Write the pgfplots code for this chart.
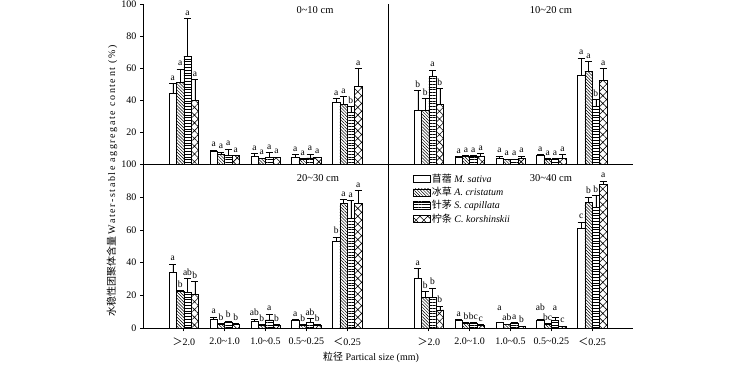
\documentclass[border=0pt]{standalone}
\usepackage{fontspec}
\setmainfont{Liberation Serif}
\newfontfamily\cjk{Noto Sans CJK SC}
\usepackage{pgfplots}
\pgfplotsset{compat=1.18}
\usepackage{pgfplotstable}
\usetikzlibrary{patterns.meta}

% x: group; v: bar value; t: top of error bar; l: significance letter
\pgfplotstableread{
x v1 t1 l1 v2 t2 l2 v3 t3 l3 v4 t4 l4
0 44.4 50.6 a 51.2 59.6 a 67.7 91.2 a 40.2 53.1 a
1 7.9 8.9 a 6.4 7.6 a 5.4 9.4 a 5.4 5.6 a
2 4.8 6.6 a 3.7 4.0 a 4.1 7.5 a 4.1 4.5 a
3 4.6 6.2 a 3.1 3.5 a 4.0 6.4 a 4.1 4.5 a
4 38.5 41.2 a 37.5 42.3 a 32.5 36.0 b 48.9 60.0 a
}\tA
\pgfplotstableread{
x v1 t1 l1 v2 t2 l2 v3 t3 l3 v4 t4 l4
0 33.5 46.0 b 33.5 41.0 b 55.2 59.0 a 37.3 47.3 b
1 4.4 4.8 a 5.2 5.5 a 5.2 5.5 a 5.2 6.6 a
2 3.5 5.2 a 2.9 3.2 a 3.1 3.4 a 3.6 5.1 a
3 5.8 6.2 a 3.1 3.5 a 3.1 3.5 a 3.7 6.2 a
4 56.0 66.4 a 58.3 64.4 a 36.4 40.6 b 52.7 60.0 a
}\tB
\pgfplotstableread{
x v1 t1 l1 v2 t2 l2 v3 t3 l3 v4 t4 l4
0 34.0 39.2 a 22.4 23.0 b 21.8 30.2 ab 21.0 28.6 b
1 5.3 6.9 a 2.6 3.0 b 3.9 4.3 b 2.6 3.0 b
2 4.5 5.7 ab 2.0 2.3 b 5.1 8.8 a 2.0 2.3 b
3 4.9 5.3 a 2.0 2.3 b 3.5 6.1 ab 2.0 2.3 b
4 53.0 55.6 b 76.0 78.5 a 67.3 78.0 a 76.0 84.0 a
}\tC
% h: height at which the letter is set, where it is lifted clear of a neighbour
\pgfplotstableread{
x v1 t1 l1 h1 v2 t2 l2 h2 v3 t3 l3 h3 v4 t4 l4 h4
0 30.2 36.3 a 36.3 18.7 22.4 b 22.4 18.7 24.6 b 24.6 11.2 13.5 b 13.5
1 4.9 5.3 a 5.3 3.3 3.5 b 3.5 3.3 3.5 bc 3.5 2.0 2.2 c 2.2
2 3.5 3.8 a 9.0 2.4 2.6 ab 2.6 3.3 3.6 a 3.6 1.2 1.4 b 1.4
3 4.7 5.3 ab 9.0 2.6 2.9 bc 2.9 4.7 6.9 a 9.0 1.2 1.4 c 1.4
4 61.2 64.8 c 64.8 76.6 80.1 b 80.1 74.0 81.1 b 81.1 87.6 89.7 a 89.7
}\tD

\pgfplotsset{
  panel/.style={scale only axis, width=245pt, xmin=-1, xmax=5, ymin=0, ymax=100,
    axis x line=bottom, axis y line=left, axis line style={-, line width=0.8pt},
    tick align=outside, major tick length=3pt, tick style={line width=0.7pt, black},
    clip=false, xtick={0,...,4},
    tick label style={font=\fontsize{10}{11}\selectfont},
    xticklabel style={yshift=-3pt},
    /pgf/number format/assume math mode=true,
    legend image code/.code={\draw[##1, line width=0.6pt] (0pt,-3.5pt) rectangle (17pt,3.5pt);},
  },
  bb/.style={ybar, bar width=0.18, bar shift=0pt, draw=black, line width=0.6pt,
    error bars/.cd, y dir=plus, y explicit,
    error bar style={line width=0.6pt, black},
    error mark=-,
    error mark options={rotate=90, line width=0.6pt, mark size=3.5pt, black}},
  b1/.style={fill=white, bb},
  b2/.style={pattern={Lines[angle=-45,distance=2.2pt,line width=0.5pt]}, bb},
  b3/.style={pattern={Lines[angle=0,distance=2.8pt,line width=0.5pt]}, bb},
  b4/.style={pattern={Hatch[angle=45,distance=5.5pt,line width=0.6pt]}, bb},
  lab/.style={forget plot, only marks, mark=none, nodes near coords,
    point meta=explicit symbolic,
    every node near coord/.append style={anchor=south, inner sep=0.5pt, yshift=2.5pt,
      font=\fontsize{9.5}{10}\selectfont}},
}

\newcommand\bars[1]{%
  \addplot[b1] table[x expr=\thisrow{x}-0.27,y=v1,y error expr=\thisrow{t1}-\thisrow{v1}]{#1};
  \addplot[b2] table[x expr=\thisrow{x}-0.09,y=v2,y error expr=\thisrow{t2}-\thisrow{v2}]{#1};
  \addplot[b3] table[x expr=\thisrow{x}+0.09,y=v3,y error expr=\thisrow{t3}-\thisrow{v3}]{#1};
  \addplot[b4] table[x expr=\thisrow{x}+0.27,y=v4,y error expr=\thisrow{t4}-\thisrow{v4}]{#1};
}
% #2: column prefix for the height of the letters (t or h)
\newcommand\labs[2]{%
  \addplot[lab] table[x expr=\thisrow{x}-0.27,y=#21,meta=l1]{#1};
  \addplot[lab] table[x expr=\thisrow{x}-0.09,y=#22,meta=l2]{#1};
  \addplot[lab] table[x expr=\thisrow{x}+0.09,y=#23,meta=l3]{#1};
  \addplot[lab] table[x expr=\thisrow{x}+0.27,y=#24,meta=l4]{#1};
}

\begin{document}
\begin{tikzpicture}
\useasboundingbox (0pt,0pt) rectangle (736pt,364pt);

\begin{axis}[panel, at={(143pt,199.7pt)}, anchor=south west, height=159.8pt,
  ytick={20,40,...,100}, xtick=\empty]
  \bars{\tA}
  \labs{\tA}{t}
\end{axis}

\begin{axis}[panel, at={(388pt,199.7pt)}, anchor=south west, height=159.8pt,
  ytick=\empty, xtick=\empty]
  \bars{\tB}
  \labs{\tB}{t}
\end{axis}

\begin{axis}[panel, at={(143pt,35.7pt)}, anchor=south west, height=164pt,
  ytick={0,20,...,100},
  xticklabels={{\cjk ＞}2.0, 2.0\textasciitilde1.0, 1.0\textasciitilde0.5, 0.5\textasciitilde0.25, {\cjk ＜}0.25}]
  \bars{\tC}
  \labs{\tC}{t}
\end{axis}

\begin{axis}[panel, at={(388pt,35.7pt)}, anchor=south west, height=164pt,
  ytick=\empty,
  xticklabels={{\cjk ＞}2.0, 2.0\textasciitilde1.0, 1.0\textasciitilde0.5, 0.5\textasciitilde0.25, {\cjk ＜}0.25},
  legend style={at={(0.1,0.95)}, anchor=north west, draw=none, fill=none,
    inner sep=0pt, row sep=0pt,
    font=\fontsize{10}{11}\selectfont,
    nodes={inner sep=1.6pt}},
  legend cell align=left]
  \bars{\tD}
  \labs{\tD}{h}
  \legend{{\cjk 苜蓿} \textit{M. sativa}, {\cjk 冰草} \textit{A. cristatum}, {\cjk 针茅} \textit{S. capillata}, {\cjk 柠条} \textit{C. korshinskii}}
\end{axis}

\node[font=\fontsize{10.5}{12}\selectfont] at (315pt,354pt) {0\textasciitilde10 cm};
\node[font=\fontsize{10.5}{12}\selectfont] at (551pt,354pt) {10\textasciitilde20 cm};
\node[font=\fontsize{10.5}{12}\selectfont] at (318pt,186pt) {20\textasciitilde30 cm};
\node[font=\fontsize{10.5}{12}\selectfont] at (551pt,186pt) {30\textasciitilde40 cm};

\node[rotate=90, font=\fontsize{10}{11}\selectfont] at (112pt,183pt)
  {{\cjk 水稳性团聚体含量} {\addfontfeature{LetterSpace=16}Water-stable aggregate content (\%)}};
\node[font=\fontsize{10}{11}\selectfont] at (371pt,7pt) {{\cjk 粒径} Partical size (mm)};
\end{tikzpicture}
\end{document}
